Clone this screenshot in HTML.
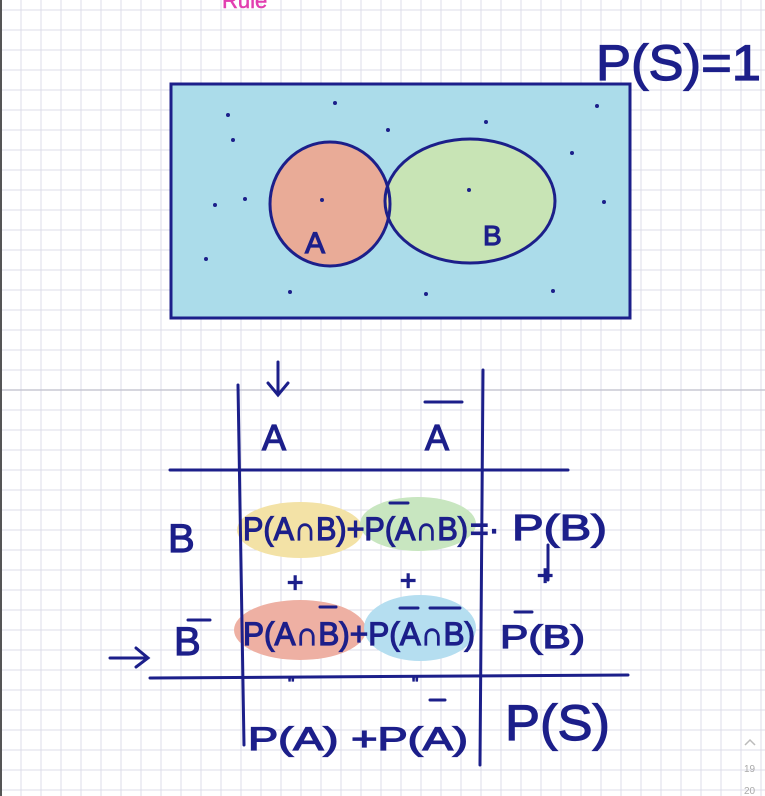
<!DOCTYPE html>
<html><head><meta charset="utf-8"><style>
html,body{margin:0;padding:0;background:#fff;}
svg{display:block;}
text{font-family:"Liberation Sans",sans-serif;fill:#1c1f8a;stroke:#1c1f8a;stroke-width:1.2;}
</style></head><body>
<svg width="765" height="796" viewBox="0 0 765 796">
<defs>
<clipPath id="clipA"><ellipse cx="330" cy="204" rx="60" ry="62"/></clipPath>
</defs>
<g id="grid" stroke="#dcdce8" stroke-width="1"></g>
<line x1="0" y1="390" x2="765" y2="390" stroke="#c8c8d4" stroke-width="1.5"/>
<line x1="1" y1="0" x2="1" y2="796" stroke="#555" stroke-width="2"/>
<text x="222" y="8" font-size="22" style="fill:#e23fb0;stroke:#e23fb0;stroke-width:0.5">Rule</text>
<text x="596" y="80" font-size="50" textLength="165" lengthAdjust="spacingAndGlyphs">P(S)=1</text>

<g>
<rect x="171" y="84" width="459" height="234" fill="#abdcea" stroke="#1c1f8a" stroke-width="3"/>
<ellipse cx="330" cy="204" rx="60" ry="62" fill="#e9ab97"/>
<ellipse cx="470" cy="201" rx="85" ry="62" fill="#c8e4b5"/>
<ellipse cx="470" cy="201" rx="85" ry="62" fill="#f0e1a2" clip-path="url(#clipA)"/>
<ellipse cx="330" cy="204" rx="60" ry="62" fill="none" stroke="#1c1f8a" stroke-width="3"/>
<ellipse cx="470" cy="201" rx="85" ry="62" fill="none" stroke="#1c1f8a" stroke-width="3"/>
<text x="305" y="253" font-size="30">A</text>
<text x="483" y="245" font-size="28">B</text>
<g fill="#1c1f8a">
<circle cx="335" cy="103" r="2"/><circle cx="228" cy="115" r="2"/><circle cx="233" cy="140" r="2"/><circle cx="388" cy="130" r="2"/><circle cx="486" cy="122" r="2"/><circle cx="597" cy="106" r="2"/><circle cx="572" cy="153" r="2"/><circle cx="215" cy="205" r="2"/><circle cx="245" cy="199" r="2"/><circle cx="322" cy="200" r="2"/><circle cx="469" cy="190" r="2"/><circle cx="604" cy="202" r="2"/><circle cx="206" cy="259" r="2"/><circle cx="290" cy="292" r="2"/><circle cx="426" cy="294" r="2"/><circle cx="553" cy="291" r="2"/>
</g>
</g>

<g>
<ellipse cx="300" cy="530" rx="63" ry="28" fill="#f3e2a6"/>
<ellipse cx="418" cy="524" rx="58" ry="27" fill="#c8e6c0"/>
<ellipse cx="300" cy="630" rx="66" ry="30" fill="#eeb0a3"/>
<ellipse cx="420" cy="628" rx="56" ry="33" fill="#b5def0"/>
<g stroke="#1c1f8a" stroke-width="3" stroke-linecap="round" fill="none">
<line x1="238" y1="385" x2="244" y2="745"/>
<line x1="483" y1="370" x2="480" y2="765"/>
<line x1="170" y1="470" x2="568" y2="470"/>
<line x1="150" y1="678" x2="628" y2="675"/>
<path d="M278 362 V393 M268 383 L278 395 L288 383"/>
<path d="M110 658 H148 M136 648 L148 658 L136 667"/>
<path d="M425 402 H462 M188 620 H210"/>
<path d="M390 503 H408 M320 607 H336 M400 608 H418 M430 608 H460 M515 612 H532 M430 700 H445"/>
<path d="M548 545 V580"/>
</g>
<text x="262" y="450" font-size="36">A</text>
<text x="425" y="450" font-size="36">A</text>
<text x="168" y="552" font-size="40">B</text>
<text x="174" y="655" font-size="40">B</text>
<text x="243" y="540" font-size="32" textLength="225" lengthAdjust="spacingAndGlyphs">P(A∩B)+P(A∩B)</text>
<text x="470" y="540" font-size="32">=·</text>
<text x="512" y="540" font-size="36" textLength="95" lengthAdjust="spacingAndGlyphs">P(B)</text>
<text x="287" y="592" font-size="28">+</text>
<text x="400" y="590" font-size="28">+</text>
<text x="537" y="585" font-size="28">+</text>
<text x="243" y="645" font-size="32" textLength="232" lengthAdjust="spacingAndGlyphs">P(A∩B)+P(A∩B)</text>
<text x="500" y="648" font-size="32" textLength="85" lengthAdjust="spacingAndGlyphs">P(B)</text>
<text x="288" y="690" font-size="18">"</text>
<text x="412" y="690" font-size="18">"</text>
<text x="248" y="750" font-size="32" textLength="220" lengthAdjust="spacingAndGlyphs">P(A) +P(A)</text>
<text x="505" y="740" font-size="50" textLength="105" lengthAdjust="spacingAndGlyphs">P(S)</text>
</g>

<g>
<path d="M745 745 L750 740 L755 745" stroke="#bbb" fill="none" stroke-width="1.5"/>
<text x="744" y="772" font-size="10" style="fill:#aaa;stroke:none">19</text>
<text x="744" y="794" font-size="10" style="fill:#aaa;stroke:none">20</text>
</g>
<script>
var g=document.getElementById('grid'),ns='http://www.w3.org/2000/svg';
for(var x=21;x<765;x+=20){var l=document.createElementNS(ns,'line');l.setAttribute('x1',x);l.setAttribute('x2',x);l.setAttribute('y1',0);l.setAttribute('y2',796);


g.appendChild(l);}
for(var y=10;y<796;y+=20){var l=document.createElementNS(ns,'line');l.setAttribute('y1',y);l.setAttribute('y2',y);l.setAttribute('x1',0);l.setAttribute('x2',765);


g.appendChild(l);}
</script>
</svg>
</body></html>
